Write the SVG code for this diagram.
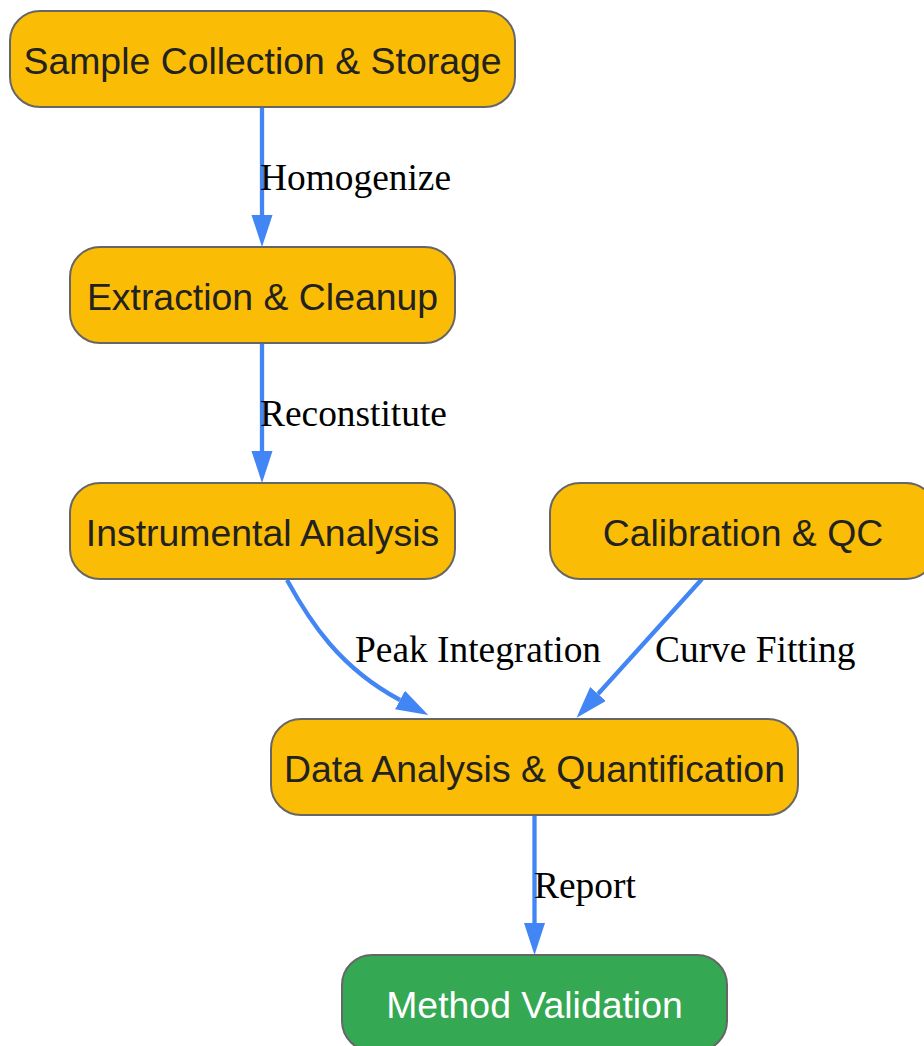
<svg xmlns="http://www.w3.org/2000/svg" width="924" height="1046" viewBox="0 0 924 1046">
<style>
.node rect{fill:#FBBC05;stroke:#666666;stroke-width:2}
.node text{font-family:"Liberation Sans",Arial,sans-serif;font-size:37.4px;fill:#222222;text-anchor:middle}
#n6 rect{fill:#34A853}
#n6 text{fill:#FFFFFF}
.edge{fill:none;stroke:#4285F4;stroke-width:4.3;marker-end:url(#arr)}
.elabel{font-family:"Liberation Serif","Times New Roman",serif;font-size:37.4px;fill:#000000}
</style>
<defs>
<marker id="arr" markerUnits="userSpaceOnUse" markerWidth="34" markerHeight="22" refX="0" refY="10.5" orient="auto" viewBox="0 0 34 22">
<path d="M0,0 L32,10.5 L0,21 z" fill="#4285F4"/>
</marker>
</defs>
<rect width="924" height="1046" fill="#FFFFFF"/>
<g id="connectors">
<path class="edge" d="M262,107 L262,215"/>
<path class="edge" d="M262,343 L262,451"/>
<path class="edge" d="M287,580 C310,622 340,668 400,700"/>
<path class="edge" d="M702,579 L598,694"/>
<path class="edge" d="M534.5,815 L534.5,923"/>
<text class="elabel" x="260" y="190">Homogenize</text>
<text class="elabel" x="260" y="426">Reconstitute</text>
<text class="elabel" x="355" y="662">Peak Integration</text>
<text class="elabel" x="655" y="662">Curve Fitting</text>
<text class="elabel" x="534" y="898">Report</text>
</g>
<g id="n1" class="node">
<rect x="10" y="11" width="505" height="96" rx="30" ry="30"/>
<text x="262.5" y="74">Sample Collection &amp; Storage</text>
</g>
<g id="n2" class="node">
<rect x="70" y="247" width="385" height="96" rx="30" ry="30"/>
<text x="262.5" y="310">Extraction &amp; Cleanup</text>
</g>
<g id="n3" class="node">
<rect x="70" y="483" width="385" height="96" rx="30" ry="30"/>
<text x="262.5" y="546">Instrumental Analysis</text>
</g>
<g id="n4" class="node">
<rect x="550" y="483" width="386" height="96" rx="30" ry="30"/>
<text x="743" y="546">Calibration &amp; QC</text>
</g>
<g id="n5" class="node">
<rect x="271" y="719" width="527" height="96" rx="30" ry="30"/>
<text x="534.5" y="782">Data Analysis &amp; Quantification</text>
</g>
<g id="n6" class="node">
<rect x="342" y="955" width="385" height="96" rx="30" ry="30"/>
<text x="534.5" y="1018">Method Validation</text>
</g>
</svg>
